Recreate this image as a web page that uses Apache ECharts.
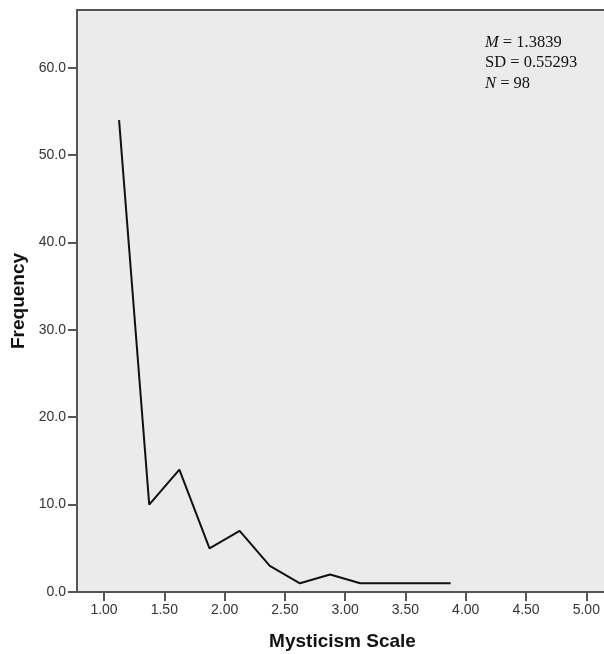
<!DOCTYPE html>
<html>
<head>
<meta charset="utf-8">
<script src="https://cdn.jsdelivr.net/npm/echarts@6/dist/echarts.min.js"></script>
<style>
  html, body { margin: 0; padding: 0; background: #fff; }
  #chart { width: 604px; height: 654px; }
</style>
</head>
<body>
<div id="chart"></div>
<script>
// 频数折线（组中点）
const midpoints = [1.125, 1.375, 1.625, 1.875, 2.125, 2.375, 2.625, 2.875, 3.125, 3.375, 3.625, 3.875];
const frequencies = [54, 10, 14, 5, 7, 3, 1, 2, 1, 1, 1, 1];
const xTicks = [1, 1.5, 2, 2.5, 3, 3.5, 4, 4.5, 5];
const yTicks = [0, 10, 20, 30, 40, 50, 60];

const chart = echarts.init(document.getElementById('chart'));
const axisColor = '#555';
const labelFont = { fontFamily: 'Liberation Sans', fontSize: 14, color: '#333' };

chart.setOption({
  animation: false,
  grid: {
    left: 77, right: -4, top: 10, bottom: 62,
    outerBoundsMode: 'none',
    containLabel: false,
    show: true, backgroundColor: '#ebebeb', borderColor: axisColor, borderWidth: 2
  },
  xAxis: {
    type: 'value',
    min: 0.776, max: 5.18,
    name: 'Mysticism Scale',
    nameLocation: 'middle',
    nameGap: 40,
    nameTextStyle: { fontFamily: 'Liberation Sans', fontWeight: 'bold', fontSize: 19, color: '#111' },
    axisLine: { show: true, lineStyle: { color: axisColor, width: 2 } },
    axisTick: { show: true, customValues: xTicks, length: 9, lineStyle: { color: axisColor, width: 2 } },
    axisLabel: { customValues: xTicks, margin: 11, ...labelFont, formatter: v => v.toFixed(2) },
    splitLine: { show: false }
  },
  yAxis: {
    type: 'value',
    min: 0, max: 66.6,
    name: 'Frequency',
    nameLocation: 'middle',
    nameGap: 48,
    nameTextStyle: { fontFamily: 'Liberation Sans', fontWeight: 'bold', fontSize: 19, color: '#111' },
    axisLine: { show: true, lineStyle: { color: axisColor, width: 2 } },
    axisTick: { show: true, customValues: yTicks, length: 9, lineStyle: { color: axisColor, width: 2 } },
    axisLabel: { customValues: yTicks, margin: 11, ...labelFont, formatter: v => v.toFixed(1) },
    splitLine: { show: false }
  },
  graphic: [{
    type: 'text',
    left: 485, top: 32,
    style: {
      text: '{i|M} = 1.3839\nSD = 0.55293\n{i|N} = 98',
      font: '16.5px "Liberation Serif"',
      fill: '#111',
      lineHeight: 20.5,
      rich: {
        i: { fontStyle: 'italic', fontFamily: 'Liberation Serif', fontSize: 16.5, fill: '#111' }
      }
    }
  }],
  series: [{
    type: 'line',
    data: midpoints.map((x, i) => [x, frequencies[i]]),
    symbol: 'none',
    lineStyle: { color: '#111', width: 2 }
  }]
});
</script>
</body>
</html>
